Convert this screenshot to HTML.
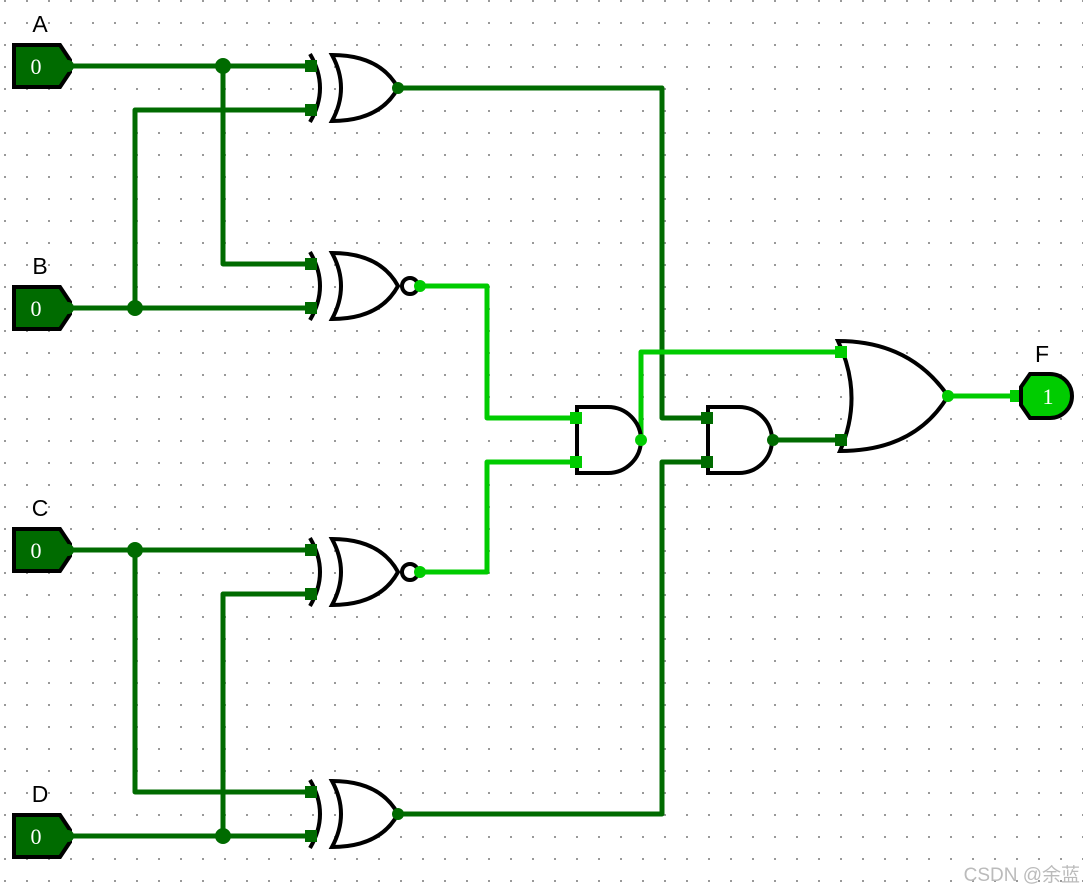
<!DOCTYPE html>
<html><head><meta charset="utf-8"><style>
html,body{margin:0;padding:0;background:#fff;}
svg{display:block;}
text{font-family:"Liberation Sans",sans-serif;}
</style></head><body>
<svg width="1083" height="891" viewBox="0 0 1083 891" xmlns="http://www.w3.org/2000/svg">
<defs>
<pattern id="g" x="4" y="0" width="22" height="22" patternUnits="userSpaceOnUse">
<rect x="0" y="0" width="2" height="2" fill="#999"/>
</pattern>
<g id="xorb">
<path d="M310,-34 Q330,0 310,34" fill="none" stroke="#000" stroke-width="4"/>
<path d="M332,-33 Q350,0 332,33 Q380,33 398,0 Q380,-33 332,-33 Z" fill="#fff" stroke="#000" stroke-width="4"/>
</g>
</defs>
<rect width="1083" height="891" fill="url(#g)"/>

<g fill="none" stroke-width="5" stroke-linejoin="round">
<g stroke="#006b00">
<path d="M68,66 H315"/>
<path d="M223,66 V264 H315"/>
<path d="M68,308 H315"/>
<path d="M135,308 V110 H315"/>
<path d="M68,550 H315"/>
<path d="M135,550 V792 H315"/>
<path d="M68,836 H315"/>
<path d="M223,836 V594 H315"/>
<path d="M398,88 H662 V418 H708"/>
<path d="M398,814 H662 V462 H708"/>
<path d="M773,440 H840"/>
</g>
<g stroke="#00cc00">
<path d="M420,286 H487 V418 H578"/>
<path d="M420,572 H487 V462 H578"/>
<path d="M641,440 V352 H840"/>
<path d="M948,396 H1018"/>
</g>
</g>

<!-- inputs -->
<g stroke="#000" stroke-width="4" fill="#006b00">
<path d="M14,45 H60 L70,60 V72 L60,87 H14 Z"/>
<path d="M14,287 H60 L70,302 V314 L60,329 H14 Z"/>
<path d="M14,529 H60 L70,544 V556 L60,571 H14 Z"/>
<path d="M14,815 H60 L70,830 V842 L60,857 H14 Z"/>
</g>
<g fill="#fff" font-size="22" text-anchor="middle">
<text x="36" y="74" style="font-family:'Liberation Serif',serif">0</text>
<text x="36" y="316" style="font-family:'Liberation Serif',serif">0</text>
<text x="36" y="558" style="font-family:'Liberation Serif',serif">0</text>
<text x="36" y="844" style="font-family:'Liberation Serif',serif">0</text>
</g>
<g font-size="23" fill="#000" text-anchor="middle">
<text x="40" y="32">A</text><text x="40" y="274">B</text><text x="40" y="516">C</text><text x="40" y="802">D</text><text x="1042" y="362">F</text>
</g>

<!-- gates -->
<use href="#xorb" transform="translate(0,88)"/>
<use href="#xorb" transform="translate(0,286)"/>
<use href="#xorb" transform="translate(0,572)"/>
<use href="#xorb" transform="translate(0,814)"/>
<g fill="#fff" stroke="#000" stroke-width="4">
<circle cx="410" cy="286" r="8"/><circle cx="410" cy="572" r="8"/>
<path d="M577,407 H608 A33,33 0 0 1 608,473 H577 Z"/>
<path d="M708,407 H739 A33,33 0 0 1 739,473 H708 Z"/>
<path d="M838,341 Q864,396 840,451 Q915,451 948,396 Q910,341 838,341 Z"/>
</g>

<!-- junctions -->
<g fill="#006b00">
<circle cx="223" cy="66" r="8"/><circle cx="135" cy="308" r="8"/>
<circle cx="135" cy="550" r="8"/><circle cx="223" cy="836" r="8"/>
<circle cx="68" cy="66" r="6"/><circle cx="68" cy="308" r="6"/><circle cx="68" cy="550" r="6"/><circle cx="68" cy="836" r="6"/>
<circle cx="398" cy="88" r="6"/><circle cx="398" cy="814" r="6"/><circle cx="773" cy="440" r="6"/>
</g>
<g fill="#00cc00"><circle cx="420" cy="286" r="6"/><circle cx="420" cy="572" r="6"/><circle cx="641" cy="440" r="6"/><circle cx="948" cy="396" r="6"/></g>

<!-- pins -->
<g fill="#006b00">
<rect x="305" y="60" width="12" height="12"/><rect x="305" y="104" width="12" height="12"/>
<rect x="305" y="258" width="12" height="12"/><rect x="305" y="302" width="12" height="12"/>
<rect x="305" y="544" width="12" height="12"/><rect x="305" y="588" width="12" height="12"/>
<rect x="305" y="786" width="12" height="12"/><rect x="305" y="830" width="12" height="12"/>
<rect x="701" y="412" width="12" height="12"/><rect x="701" y="456" width="12" height="12"/>
<rect x="835" y="434" width="12" height="12"/>
</g>
<g fill="#00cc00">
<rect x="570" y="412" width="12" height="12"/><rect x="570" y="456" width="12" height="12"/>
<rect x="835" y="346" width="12" height="12"/><rect x="1010" y="390" width="12" height="12"/>
</g>

<!-- output F -->
<path d="M1030,374 H1050 A22,22 0 0 1 1050,418 H1030 L1021,405 V387 Z" fill="#00cc00" stroke="#000" stroke-width="4"/>
<text x="1048" y="404" fill="#fff" font-size="22" text-anchor="middle" style="font-family:'Liberation Serif',serif">1</text>

<text x="1080" y="881" fill="#bbb" font-size="19" text-anchor="end" style="font-family:'Liberation Sans','Noto Sans CJK SC',sans-serif">CSDN @余蓝</text>
</svg>
</body></html>
